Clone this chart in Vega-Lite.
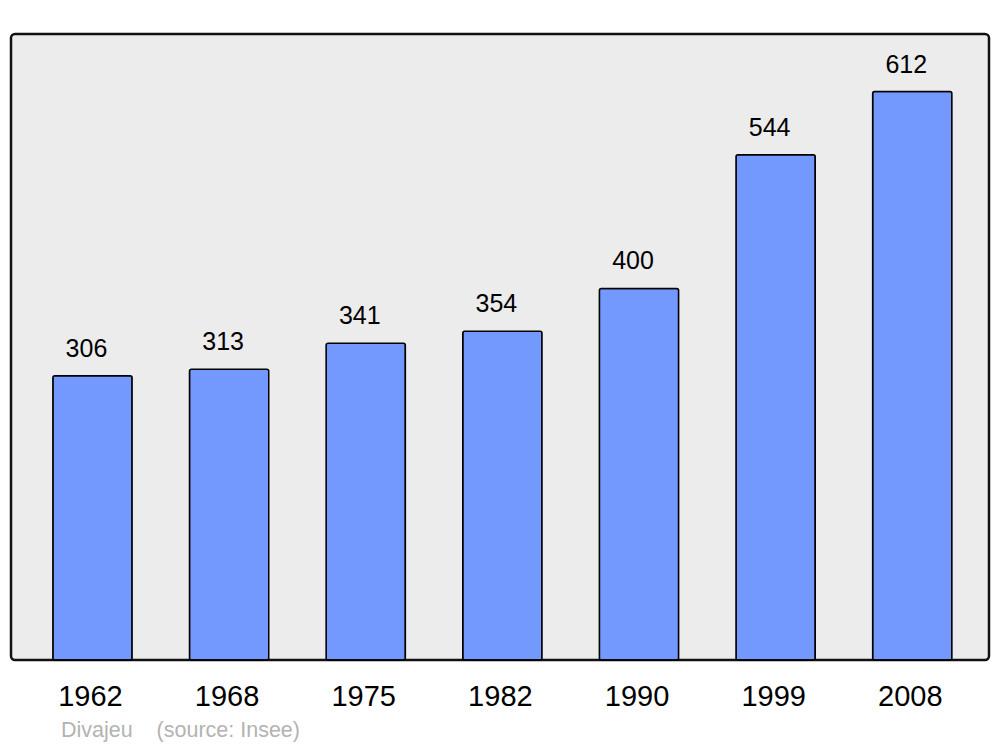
{
  "$schema": "https://vega.github.io/schema/vega-lite/v6.json",
  "autosize": {"type": "none"},
  "width": 978,
  "height": 626,
  "padding": {"left": 11, "top": 34, "right": 11, "bottom": 87},
  "background": "white",
  "config": {
    "font": "Liberation Sans",
    "view": {"fill": "#ececec", "stroke": "#111111", "strokeWidth": 2.5, "cornerRadius": 4}
  },
  "title": {
    "text": "Divajeu \u00a0\u00a0\u00a0(source: Insee)",
    "orient": "bottom",
    "anchor": "start",
    "dx": 50,
    "offset": 9,
    "fontSize": 21.5,
    "fontWeight": "normal",
    "color": "#b3b3b3",
    "font": "Liberation Sans"
  },
  "data": {
    "values": [
      {"year": "1962", "pop": 306},
      {"year": "1968", "pop": 313},
      {"year": "1975", "pop": 341},
      {"year": "1982", "pop": 354},
      {"year": "1990", "pop": 400},
      {"year": "1999", "pop": 544},
      {"year": "2008", "pop": 612}
    ]
  },
  "encoding": {
    "x": {
      "field": "year",
      "type": "nominal",
      "sort": null,
      "scale": {"paddingInner": 0.42, "paddingOuter": 0.289, "align": 0.53},
      "axis": {
        "title": null,
        "labelAngle": 0,
        "labelFontSize": 29,
        "labelColor": "#000000",
        "labelFont": "Liberation Sans",
        "labelBaseline": "alphabetic",
        "labelPadding": 45,
        "labelOffset": -2,
        "ticks": false,
        "tickSize": 0,
        "domain": false,
        "grid": false
      }
    },
    "y": {
      "field": "pop",
      "type": "quantitative",
      "scale": {"domain": [0, 674], "nice": false, "zero": true},
      "axis": null
    }
  },
  "layer": [
    {
      "mark": {"type": "bar", "fill": "#7399ff", "stroke": "#000000", "strokeWidth": 1.5, "cornerRadius": 2}
    },
    {
      "mark": {"type": "text", "baseline": "alphabetic", "align": "center", "dx": -6, "dy": -19, "fontSize": 25, "color": "#000000", "font": "Liberation Sans"},
      "encoding": {"text": {"field": "pop", "type": "quantitative"}}
    }
  ]
}
